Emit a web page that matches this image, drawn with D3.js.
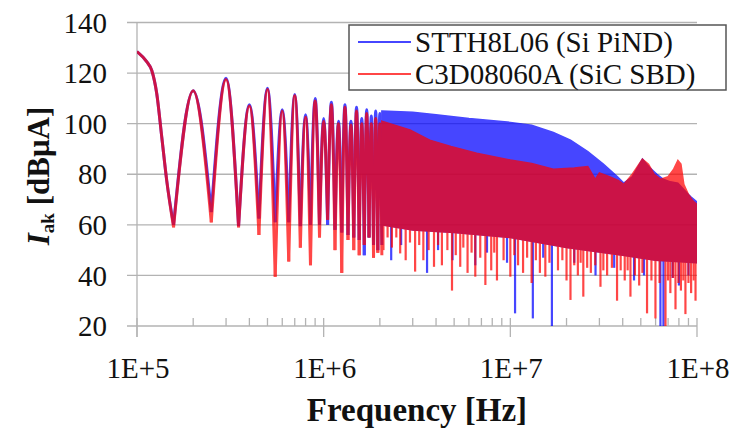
<!DOCTYPE html>
<html>
<head>
<meta charset="utf-8">
<script src="https://cdn.jsdelivr.net/npm/d3@7"></script>
<style>
  body { margin: 0; background: #fff; }
</style>
</head>
<body>
<svg id="chart" width="747" height="431"></svg>
<script>
// ---- data ----
const f0 = 1e5;                       // switching fundamental
const harmonics = [1, 2, 3, 4, 5, 6, 7, 8, 9, 10, 11, 12, 13, 14, 15, 16, 17, 18, 19, 20];

// lobe maxima at each harmonic [dBuA]
const peaksSi  = [128.5, 113, 118, 107.5, 114, 105.5, 111.5, 103.5, 110, 102, 108.5, 101, 107.5, 101, 106.5, 102, 105.5, 103, 105, 104];
const peaksSiC = [128.5, 113, 117.5, 107, 113.5, 105, 111, 102.5, 109, 101, 107.5, 100, 106.5, 99.5, 105, 100, 104, 100, 102, 100];
// minima after each harmonic
const troughsSi  = [60, 65, 59.5, 62.5, 61, 61, 59.5, 60, 60, 60, 58, 57, 56, 55, 54, 48, 55, 52, 50, 52];
const troughsSiC = [59, 61, 59, 56, 39.5, 45.5, 51, 44, 55, 62, 50, 41, 54, 50, 48, 52, 55, 47, 49, 48];
// shape of the main lobe [freq, dB]
const mainLobe = [[1e5, 128.5], [1.127e5, 124.5], [1.2e5, 121], [1.275e5, 112], [1.356e5, 95], [1.443e5, 77.5]];

// dense part of the spectrum: upper and lower envelope [freq, dB]
const topSi = [[2.05e6, 105], [3e6, 104.5], [4e6, 103.5], [6e6, 102], [1e7, 100.5], [1.3e7, 99.4], [1.7e7, 96.5],
  [2.1e7, 93.5], [2.6e7, 89], [3.15e7, 84], [3.75e7, 79], [4.05e7, 76.5], [4.5e7, 79], [5.1e7, 86], [5.6e7, 82.5],
  [6.1e7, 80], [6.6e7, 78], [7.2e7, 77], [7.9e7, 76.5], [8.5e7, 74], [9e7, 72], [9.3e7, 71], [1e8, 69]];
const bottomSi = [[2.05e6, 60], [3e6, 58], [5e6, 57], [1e7, 55], [2e7, 51], [4e7, 48], [6e7, 46], [1e8, 45]];
const topSiC = [[2.05e6, 101], [2.9e6, 97.5], [3.7e6, 93.5], [4.8e6, 91], [6.6e6, 88.3], [1e7, 85.6], [1.3e7, 84.3],
  [1.7e7, 82], [2.2e7, 82.5], [2.6e7, 83], [2.85e7, 78], [3e7, 80.5], [3.4e7, 79], [3.8e7, 77.5], [4.05e7, 76],
  [4.5e7, 80], [5.1e7, 86], [5.5e7, 84], [5.9e7, 80], [6.4e7, 78], [7e7, 79], [7.5e7, 82], [7.9e7, 85.5],
  [8.2e7, 84], [8.5e7, 76], [9e7, 72], [9.5e7, 69.5], [1e8, 68]];
const bottomSiC = [[2.05e6, 60], [3e6, 58], [5e6, 57], [1e7, 55], [2e7, 51], [4e7, 48], [6e7, 46], [1e8, 45]];

// deep notches inside the dense part [freq, dB]
const dipsSi = [[2.3e6, 46], [2.6e6, 52], [3.58e6, 41], [4.1e6, 50], [4.9e6, 46], [6.49e6, 44], [7.5e6, 49], [9.6e6, 45],
  [1.06e7, 25], [1.32e7, 23], [1.5e7, 47], [1.67e7, 20], [2.2e7, 45], [2.86e7, 40], [3.6e7, 43], [4.6e7, 38],
  [5.2e7, 40], [6.37e7, 20], [6.61e7, 20], [7.4e7, 39], [8e7, 36], [9e7, 40]];
const dipsSiC = [[2.09e6, 50], [2.2e6, 55], [2.32e6, 51], [2.45e6, 55], [2.57e6, 48.7], [2.75e6, 46], [2.9e6, 53],
  [3.09e6, 41.5], [3.25e6, 52], [3.42e6, 46], [3.65e6, 50], [3.9e6, 43.4], [4.1e6, 52], [4.3e6, 44], [4.6e6, 50],
  [4.87e6, 34], [5.1e6, 48], [5.39e6, 43.4], [5.6e6, 51], [5.9e6, 41], [6.2e6, 49], [6.49e6, 39.5], [6.9e6, 47],
  [7.35e6, 36.2], [7.9e6, 42], [8.2e6, 49], [8.48e6, 38], [9.2e6, 46], [1e7, 39.5], [1.05e7, 48], [1.1e7, 44],
  [1.17e7, 41], [1.23e7, 47], [1.3e7, 37], [1.37e7, 46], [1.44e7, 41], [1.54e7, 39.5], [1.62e7, 45], [1.8e7, 42],
  [1.9e7, 46], [2e7, 38], [2.1e7, 30.3], [2.2e7, 44], [2.3e7, 40], [2.38e7, 45], [2.46e7, 31.6], [2.58e7, 43],
  [2.7e7, 41], [2.85e7, 44], [3.04e7, 35.5], [3.15e7, 42], [3.3e7, 40], [3.5e7, 43], [3.73e7, 30], [3.9e7, 42],
  [4.1e7, 38], [4.25e7, 42], [4.4e7, 31.6], [4.65e7, 40], [4.9e7, 36], [5.1e7, 41], [5.4e7, 25], [5.7e7, 38],
  [5.99e7, 23], [6.3e7, 37], [6.78e7, 20], [7e7, 38], [7.2e7, 33], [7.45e7, 39], [7.67e7, 26.6], [7.95e7, 37],
  [8.2e7, 34], [8.45e7, 38], [8.67e7, 24.7], [9e7, 37], [9.3e7, 33], [9.6e7, 38], [9.82e7, 30]];

const xTicks = [1e5, 1e6, 1e7, 1e8];
const xTickLabels = ["1E+5", "1E+6", "1E+7", "1E+8"];
const yTicks = [20, 40, 60, 80, 100, 120, 140];

const seriesNames = ["STTH8L06 (Si PiND)", "C3D08060A (SiC SBD)"];
const seriesColors = ["#0000ff", "#ff0000"];

// ---- drawing ----
const serif = "'Liberation Serif', 'DejaVu Serif', 'Noto Serif', 'Times New Roman', serif";
const svg = d3.select("#chart").attr("font-family", serif);
const x = d3.scaleLog().domain([1e5, 1e8]).range([137, 697]);
const y = d3.scaleLinear().domain([20, 140]).range([326, 22.5]);
const axisColor = "#b3b3b3";

// gridlines (with the outer tick stubs)
svg.append("g").selectAll("line").data(yTicks).join("line")
  .attr("x1", 127).attr("x2", 697)
  .attr("y1", d => y(d)).attr("y2", d => y(d))
  .attr("stroke", axisColor).attr("stroke-width", 1.3);

// y axis line
svg.append("line").attr("x1", 137).attr("x2", 137).attr("y1", y(140)).attr("y2", 337)
  .attr("stroke", axisColor).attr("stroke-width", 1.3);

// x ticks: minor inside, majors crossing
const minor = x.ticks().filter(t => !xTicks.includes(t));
svg.append("g").selectAll("line").data(minor).join("line")
  .attr("x1", d => x(d)).attr("x2", d => x(d)).attr("y1", 318).attr("y2", y(20))
  .attr("stroke", axisColor).attr("stroke-width", 1.3);
svg.append("g").selectAll("line").data(xTicks).join("line")
  .attr("x1", d => x(d)).attr("x2", d => x(d)).attr("y1", 318).attr("y2", 337)
  .attr("stroke", axisColor).attr("stroke-width", 1.3);

// tick labels
svg.append("g").selectAll("text").data(yTicks).join("text")
  .attr("x", 107).attr("y", d => y(d)).attr("dy", "0.35em")
  .attr("text-anchor", "end").attr("font-size", 29).attr("fill", "#111")
  .text(d => d);
svg.append("g").selectAll("text").data(xTicks).join("text")
  .attr("x", d => x(d) + 1).attr("y", 378)
  .attr("text-anchor", "middle").attr("font-size", 29).attr("fill", "#111")
  .text((d, i) => xTickLabels[i]);

// axis titles
svg.append("text").attr("x", 417).attr("y", 421).attr("text-anchor", "middle")
  .attr("font-size", 33).attr("font-weight", "bold").attr("fill", "#111").text("Frequency [Hz]");
const yt = svg.append("text").attr("transform", "translate(49,176) rotate(-90)")
  .attr("text-anchor", "middle").attr("font-size", 31).attr("font-weight", "bold").attr("fill", "#111");
yt.append("tspan").attr("font-style", "italic").text("I");
yt.append("tspan").attr("font-size", 19).attr("dy", 5).text("ak");
yt.append("tspan").attr("dy", -5).text(" [dBμA]");

// plot clip
svg.append("clipPath").attr("id", "plotClip").append("rect")
  .attr("x", 137).attr("y", y(140)).attr("width", 560).attr("height", y(20) - y(140));

const lobeLine = d3.line().x(d => x(d[0])).y(d => y(d[1])).curve(d3.curveMonotoneX);
const polyLine = d3.line().x(d => x(d[0])).y(d => y(d[1]));

function drawSeries(peaks, troughs, top, bottom, dips, color) {
  const g = svg.append("g").attr("clip-path", "url(#plotClip)").attr("opacity", 0.72);
  // band of the dense harmonics
  g.append("path")
    .attr("d", polyLine(top.concat(bottom.slice().reverse())) + "Z")
    .attr("fill", color).attr("stroke", color).attr("stroke-width", 1.5);
  // deep notches
  g.append("g").selectAll("line").data(dips).join("line")
    .attr("x1", d => x(d[0])).attr("x2", d => x(d[0]))
    .attr("y1", d => y(d[1])).attr("y2", y(62))
    .attr("stroke", color).attr("stroke-width", 2.2);
  // main lobe
  g.append("path")
    .attr("d", lobeLine(mainLobe.concat([[1.57e5, troughs[0]]])))
    .attr("fill", "none").attr("stroke", color).attr("stroke-width", 3);
  // side lobes, one per harmonic
  harmonics.slice(1).forEach((n, k) => {
    const i = k + 1;
    const left = i === 1 ? 1.57e5 : (n - 0.5) * f0;
    const pts = [[left, troughs[i - 1]], [n * f0, peaks[i]], [(n + 0.5) * f0, troughs[i]]];
    g.append("path").attr("d", lobeLine(pts))
      .attr("fill", "none").attr("stroke", color).attr("stroke-width", 3)
      .attr("stroke-linejoin", "round");
  });
}

drawSeries(peaksSi, troughsSi, topSi, bottomSi, dipsSi, seriesColors[0]);
drawSeries(peaksSiC, troughsSiC, topSiC, bottomSiC, dipsSiC, seriesColors[1]);

// legend
const lg = svg.append("g");
lg.append("rect").attr("x", 349).attr("y", 25).attr("width", 377).attr("height", 65)
  .attr("fill", "#fff").attr("stroke", "#555").attr("stroke-width", 1.5);
seriesNames.forEach((name, i) => {
  const yy = 42 + i * 32;
  lg.append("line").attr("x1", 358).attr("x2", 411).attr("y1", yy).attr("y2", yy)
    .attr("stroke", seriesColors[i]).attr("stroke-width", 2).attr("opacity", 0.72);
  lg.append("text").attr("x", 415).attr("y", yy + 10).attr("font-size", 29).attr("fill", "#111").text(name);
});
</script>
</body>
</html>
